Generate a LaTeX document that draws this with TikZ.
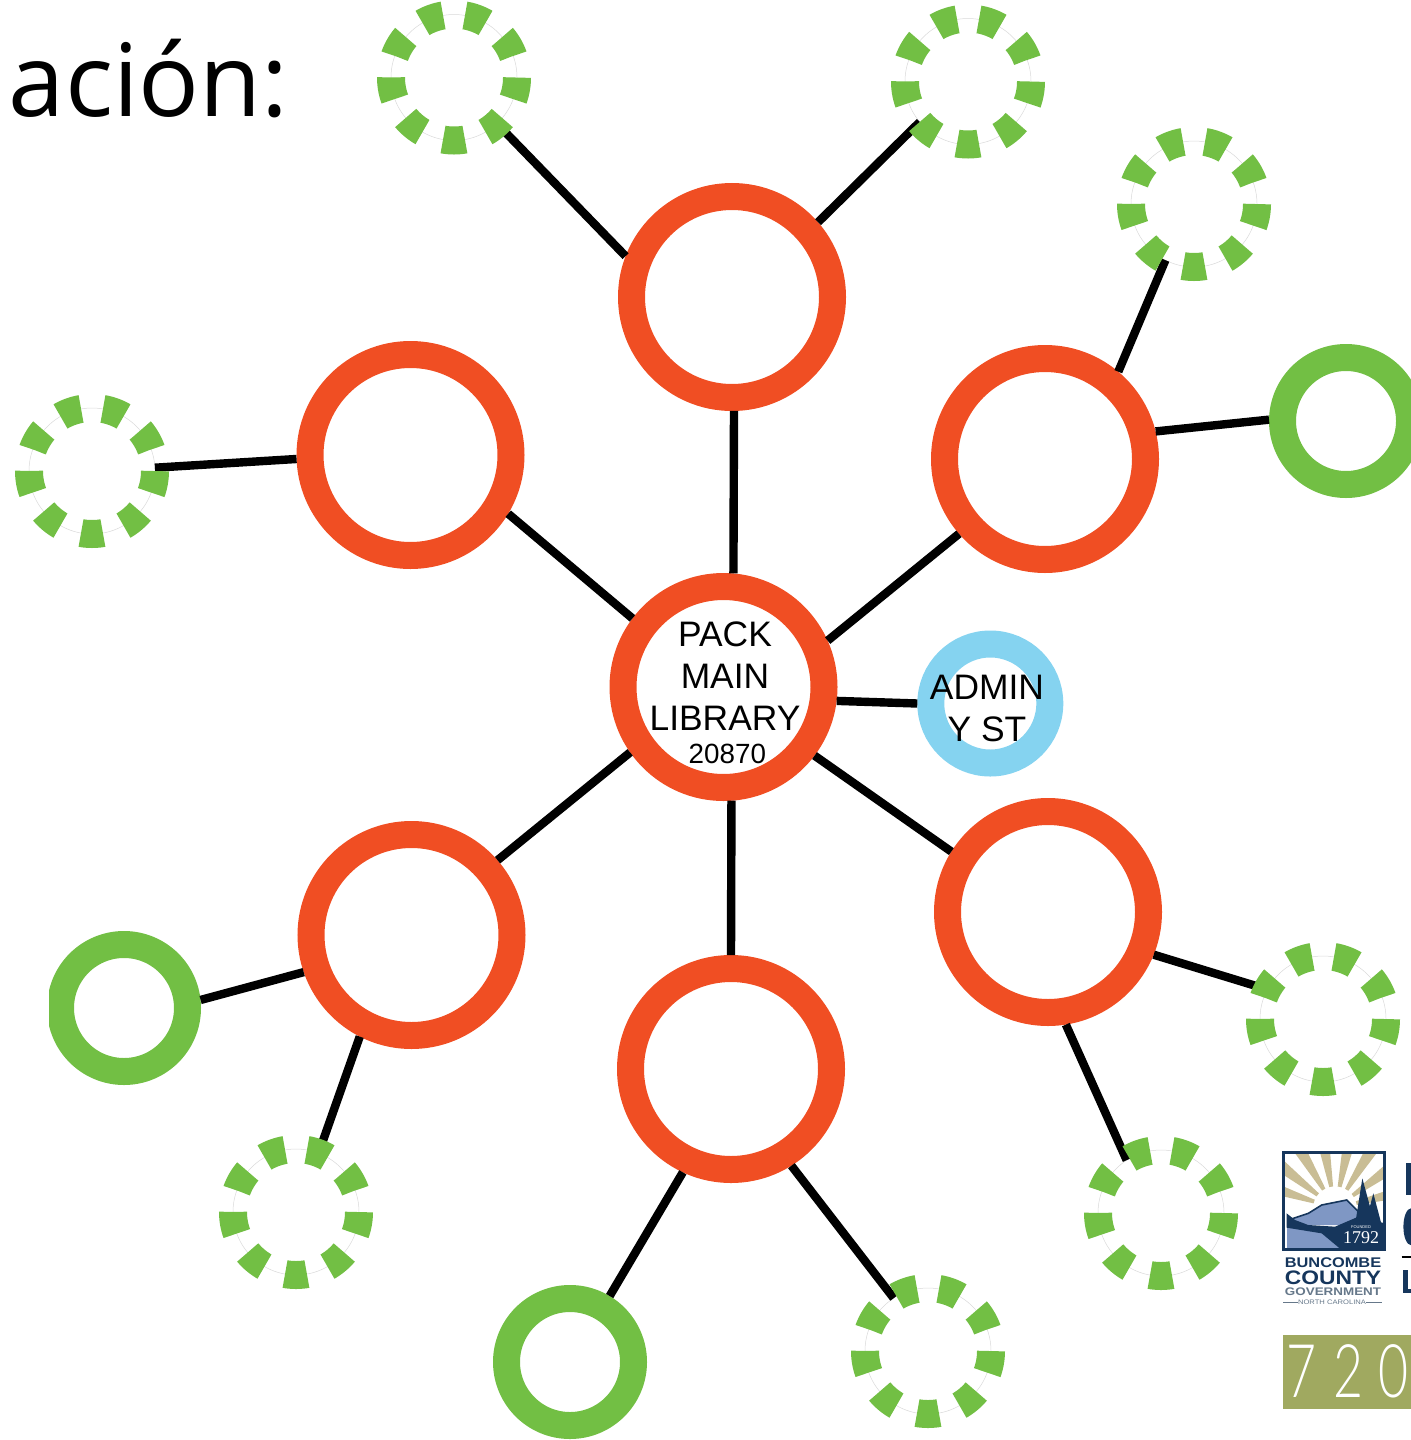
\documentclass[tikz,border=0pt]{standalone}
\usepackage{fontspec}
\setmainfont{Liberation Sans}
\newfontfamily\titlefont{Open Sans}
\newfontfamily\digitfont{Lato Light}
\newfontfamily\yearfont{Liberation Serif}
\definecolor{hubred}{HTML}{F04E23}
\definecolor{leafgreen}{HTML}{72BF44}
\definecolor{adminblue}{HTML}{85D3F0}
\definecolor{logonavy}{HTML}{16365C}
\definecolor{logotan}{HTML}{C9BD95}
\definecolor{logoblue}{HTML}{7F97C4}
\definecolor{logogray}{HTML}{66788A}
\definecolor{boxolive}{HTML}{A0A960}
\tikzset{
  hub/.style={circle, draw=hubred, line width=13.5pt, minimum size=100.5pt, inner sep=0pt},
  leaf/.style={circle, draw=leafgreen, line width=13.5pt, minimum size=63.5pt, inner sep=0pt},
  admin/.style={circle, draw=adminblue, line width=13.5pt, minimum size=59.5pt, inner sep=0pt},
  plan/.style={circle, draw=black!15, line width=0.25pt, minimum size=63pt, inner sep=0pt, outer sep=0pt},
  planseg/.style={color=leafgreen, line width=14pt, dash pattern=on 11pt off 10.99pt, dash phase=11pt},
  link/.style={color=black, line width=4.2pt},
  label/.style={font=\fontsize{17.7pt}{21pt}\selectfont, align=center, inner sep=0pt}
}
\begin{document}
\begin{tikzpicture}[x=0.5pt, y=-0.5pt]
    \useasboundingbox (0, 0) rectangle (1411, 1440);

    % draw title
    \node[font=\titlefont\fontsize{50.5pt}{52pt}\selectfont, anchor=base east, inner sep=0pt] (title) at (289, 116) {ación:};

    % draw library circles
    \node[hub] (main) at (723.5, 687) {};
    \node[hub] (top) at (732, 297) {};
    \node[hub] (upleft) at (410.5, 455) {};
    \node[hub] (upright) at (1045, 459) {};
    \node[hub] (lowleft) at (411.5, 935) {};
    \node[hub] (lowright) at (1048, 912) {};
    \node[hub] (bottom) at (731, 1069) {};
    \node[admin] (office) at (990.3, 703.5) {};

    % draw open circles
    \node[leaf] (openright) at (1346, 421) {};
    \node[leaf] (openleft) at (124, 1008) {};
    \node[leaf] (openbottom) at (570, 1362) {};
    \fill[white] (0, 900) rectangle (49, 1110);

    % draw planned circles
    \node[plan] (plana) at (454, 77.5) {};
    \node[plan] (planb) at (968, 81.5) {};
    \node[plan] (planc) at (1194, 204) {};
    \node[plan] (pland) at (92, 471) {};
    \node[plan] (plane) at (1323, 1019) {};
    \node[plan] (planf) at (1161, 1213) {};
    \node[plan] (plang) at (296, 1212) {};
    \node[plan] (planh) at (928, 1351) {};

    % draw links
    \draw[link] (main.85) -- (top.-89.5);
    \draw[link] (main.143) -- (upleft.-31);
    \draw[link] (main.24) -- (upright.-139);
    \draw[link] (main.-7.5) -- (office.180);
    \draw[link] (main.-37) -- (lowright.148);
    \draw[link] (main.-86) -- (bottom.90);
    \draw[link] (main.215) -- (lowleft.41);
    \draw[link] (top.159) -- (plana.-47);
    \draw[link] (top.41) -- (planb.-140);
    \draw[link] (upleft.182.5) -- (pland.3);
    \draw[link] (upright.50) -- (planc.-117);
    \draw[link] (upright.14) -- (openright.179);
    \draw[link] (lowleft.199) -- (openleft.6);
    \draw[link] (lowleft.-117) -- (plang.69);
    \draw[link] (bottom.-115) -- (openbottom.59);
    \draw[link] (bottom.-58) -- (planh.123);
    \draw[link] (lowright.-22) -- (plane.152);
    \draw[link] (lowright.-81) -- (planf.123);

    % draw dashes of planned circles
    \draw[planseg] (plana.center) circle (31.5pt);
    \draw[planseg] (planb.center) circle (31.5pt);
    \draw[planseg] (planc.center) circle (31.5pt);
    \draw[planseg] (pland.center) circle (31.5pt);
    \draw[planseg] (plane.center) circle (31.5pt);
    \draw[planseg] (planf.center) circle (31.5pt);
    \draw[planseg] (plang.center) circle (31.5pt);
    \draw[planseg] (planh.center) circle (31.5pt);

    % draw labels
    \node[label] (mainlabel) at (725, 692.5) {PACK\\MAIN\\LIBRARY\\[-4.5pt]{\fontsize{13.9pt}{15pt}\selectfont\,20870}};
    \node[label] (officelabel) at (987, 708.5) {ADMIN\\Y ST};

    % draw logo
    \begin{scope}[shift={(1275, 1145)}, x=0.16667pt, y=-0.16667pt]
      \begin{scope}
        \clip (22, 18) rectangle (330, 315);
        \foreach \ang in {14, 36, 58, 78, 100, 121, 142, 162} {
          \fill[logotan, shift={(180, 190)}] (\ang - 5 : 55pt) -- (\ang + 5 : 55pt) -- (\ang + 5 : 11pt) -- (\ang - 5 : 11pt) -- cycle;
        }
        \fill[logoblue] (35, 248) rectangle (200, 310);
        \fill[logoblue] (40, 225) -- (100, 205) -- (140, 180) -- (180, 172) -- (215, 165) -- (250, 200) -- (250, 240) -- (100, 240) -- cycle;
        \draw[color=logonavy, line width=0.8pt] (40, 225) -- (100, 205) -- (140, 180) -- (180, 172) -- (215, 165) -- (250, 200);
        \fill[logonavy] (35, 205) -- (60, 225) -- (100, 240) -- (180, 245) -- (250, 215) -- (330, 235) -- (330, 315) -- (200, 315) -- (140, 265) -- (35, 248) -- cycle;
        \fill[logonavy] (262, 100) -- (300, 240) -- (240, 240) -- cycle;
        \fill[logonavy] (295, 145) -- (320, 240) -- (270, 240) -- cycle;
      \end{scope}
      \draw[color=logonavy, line width=1.5pt] (25, 21) rectangle (327, 312);
      \node[font=\fontsize{2pt}{2pt}\selectfont, text=white, inner sep=0pt] (founded) at (258, 245) {FOUNDED};
      \node[font=\yearfont\fontsize{9pt}{9pt}\selectfont, text=white, inner sep=0pt] (year) at (258, 277) {1792};
      \fill[logonavy] (392, 55) rectangle (408, 150);
      \fill[logonavy] (408, 190) arc [x radius = 3.8pt, y radius = 9.2pt, start angle = 90, delta angle = 180] -- cycle;
      \draw[color=black, line width=0.6pt] (380, 336) -- (408, 336);
      \fill[logonavy] (385, 375) rectangle (400, 445);
      \fill[logonavy] (385, 433) rectangle (408, 445);
    \end{scope}

    \node[font=\bfseries\fontsize{7pt}{7pt}\selectfont, text=logonavy, xscale=1.17, inner sep=0pt] (buncombe) at (1333, 1263) {BUNCOMBE};
    \node[font=\bfseries\fontsize{9.75pt}{10pt}\selectfont, text=logonavy, xscale=1.17, inner sep=0pt] (county) at (1333, 1278) {COUNTY};
    \node[font=\bfseries\fontsize{5.5pt}{6pt}\selectfont, text=logogray, xscale=1.22, inner sep=0pt] (government) at (1333, 1292) {GOVERNMENT};
    \node[font=\fontsize{3.25pt}{4pt}\selectfont, text=logogray, xscale=1.17, inner sep=0pt] (carolina) at (1332, 1302) {NORTH CAROLINA};
    \draw[color=logogray, line width=0.5pt] (1283, 1302) -- (carolina.west);
    \draw[color=logogray, line width=0.5pt] (carolina.east) -- (1382, 1302);

    % draw number box
    \fill[boxolive] (1283, 1335) rectangle (1411, 1409);
    \node[font=\digitfont\fontsize{37pt}{37pt}\selectfont, text=white, xscale=0.7, inner sep=0pt] (seven) at (1302, 1371) {7};
    \node[font=\digitfont\fontsize{37pt}{37pt}\selectfont, text=white, xscale=0.7, inner sep=0pt] (two) at (1349, 1371) {2};
    \node[font=\digitfont\fontsize{37pt}{37pt}\selectfont, text=white, xscale=0.7, inner sep=0pt] (zero) at (1394, 1371) {0};
\end{tikzpicture}
\end{document}
